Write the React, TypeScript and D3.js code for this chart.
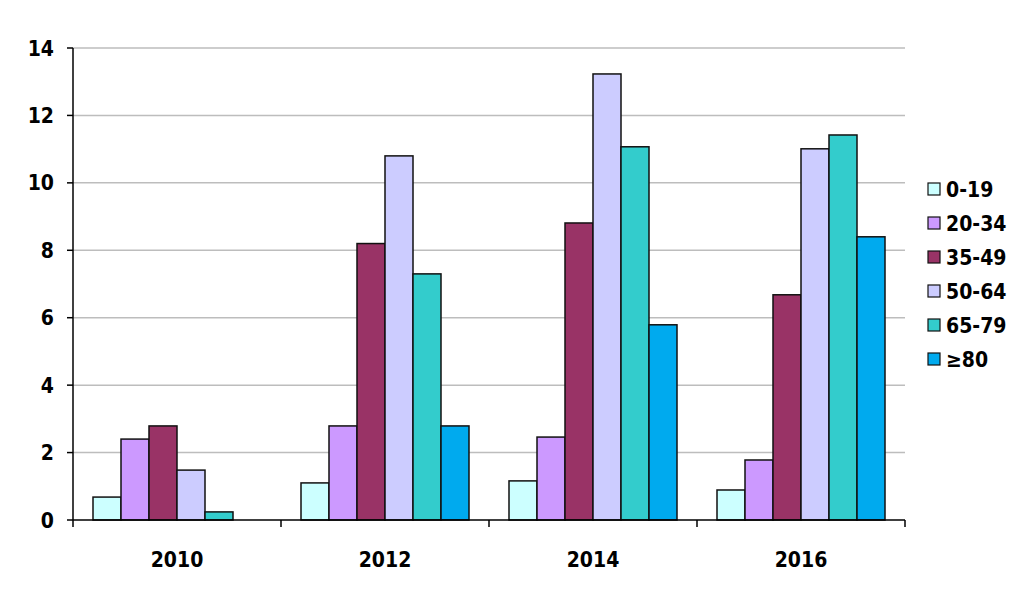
import React from "react";
import * as d3 from "d3";

const years = ["2010", "2012", "2014", "2016"];
const groups = ["0-19", "20-34", "35-49", "50-64", "65-79", "≥80"];
const colors = ["#CCFFFF", "#CC99FF", "#993366", "#CCCCFF", "#33CCCC", "#00AAEE"];
const v0_19 = [0.68, 1.1, 1.16, 0.89];
const v20_34 = [2.4, 2.79, 2.46, 1.78];
const v35_49 = [2.79, 8.2, 8.81, 6.68];
const v50_64 = [1.48, 10.8, 13.23, 11.01];
const v65_79 = [0.24, 7.3, 11.07, 11.42];
const v80 = [0, 2.79, 5.79, 8.4];
const series = [v0_19, v20_34, v35_49, v50_64, v65_79, v80];
const yTicks = [0, 2, 4, 6, 8, 10, 12, 14];

export default function App() {
  const left = 73, right = 905, top = 48, bottom = 520;
  const x = d3.scaleBand().domain(years).range([left, right]).paddingInner(0).paddingOuter(0);
  const inner = d3.scaleBand().domain(groups).range([20, x.bandwidth() - 20]).padding(0);
  const y = d3.scaleLinear().domain([0, 14]).range([bottom, top]);
  const font = "'DejaVu Sans Condensed', 'DejaVu Sans', sans-serif";
  const fs = 21;
  const boundaries = [...years.map((yr) => x(yr)!), right];
  return (
    <svg width={1024} height={605} style={{ position: "absolute", left: 0, top: 0, background: "#fff" }}>
      {yTicks.map((t) => (
        <g key={t}>
          {t > 0 && <line x1={left} x2={right} y1={y(t)} y2={y(t)} stroke="#bdbdbd" strokeWidth={1.5} />}
          <line x1={left - 6} x2={left} y1={y(t)} y2={y(t)} stroke="#000" strokeWidth={1.5} />
          <text x={54} y={y(t)} dy="0.36em" textAnchor="end" fontFamily={font} fontWeight="bold" fontSize={fs}>{t}</text>
        </g>
      ))}
      {years.map((yr, i) =>
        series.map((s, j) =>
          s[i] > 0 ? (
            <rect key={yr + j} x={x(yr)! + inner(groups[j])!} y={y(s[i])} width={inner.bandwidth()}
              height={bottom - y(s[i])} fill={colors[j]} stroke="#111" strokeWidth={1.5} />
          ) : null
        )
      )}
      <line x1={left} x2={left} y1={top} y2={bottom} stroke="#000" strokeWidth={1.5} />
      <line x1={left} x2={right} y1={bottom} y2={bottom} stroke="#000" strokeWidth={1.5} />
      {boundaries.map((b, i) => (
        <line key={i} x1={b} x2={b} y1={bottom} y2={bottom + 7} stroke="#000" strokeWidth={1.5} />
      ))}
      {years.map((yr) => (
        <text key={yr} x={x(yr)! + x.bandwidth() / 2} y={559} dy="0.36em" textAnchor="middle" fontFamily={font} fontWeight="bold" fontSize={fs}>{yr}</text>
      ))}
      {groups.map((g, j) => (
        <g key={g} transform={`translate(928, ${189 + j * 34})`}>
          <rect x={0} y={-6} width={12} height={12} fill={colors[j]} stroke="#111" strokeWidth={1.2} />
          <text x={18} y={0} dy="0.36em" fontFamily={font} fontWeight="bold" fontSize={fs}>{g}</text>
        </g>
      ))}
    </svg>
  );
}
